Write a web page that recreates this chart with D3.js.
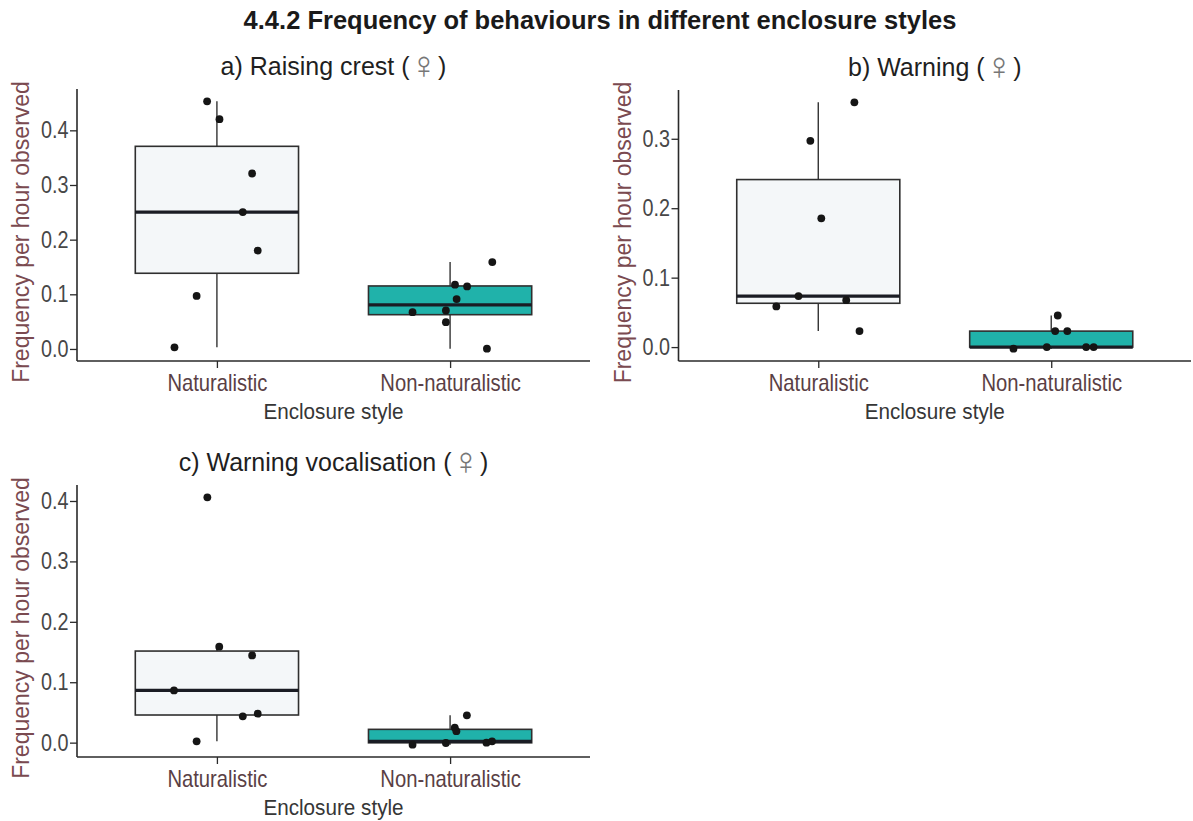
<!DOCTYPE html>
<html>
<head>
<meta charset="utf-8">
<script src="https://cdn.jsdelivr.net/npm/d3@7"></script>
<style>
  html, body { margin: 0; padding: 0; background: #ffffff; }
  svg { display: block; font-family: "Liberation Sans", Arial, Helvetica, sans-serif; }
</style>
</head>
<body>
<svg id="chart" width="1193" height="821"></svg>
<script>
// ---- data -------------------------------------------------------------
const mainTitle = "4.4.2 Frequency of behaviours in different enclosure styles";
const categories = ["Naturalistic", "Non-naturalistic"];
const panelTitles = ["a) Raising crest", "b) Warning", "c) Warning vocalisation"];
const sexSymbol = "\u2640";
const xAxisTitle = "Enclosure style";
const yAxisTitle = "Frequency per hour observed";
const yTicksA = [0, 0.1, 0.2, 0.3, 0.4];
const yTicksB = [0, 0.1, 0.2, 0.3];
const yTicksC = [0, 0.1, 0.2, 0.3, 0.4];

// frequency per hour observed, one value per observation
const crestNaturalistic    = [0.453, 0.4205, 0.321, 0.2505, 0.180, 0.097, 0.003];
const crestNonNaturalistic = [0.159, 0.1176, 0.1145, 0.0912, 0.0704, 0.049, 0.0006, 0.0673];
const warnNaturalistic     = [0.3525, 0.297, 0.1855, 0.0734, 0.0676, 0.0586, 0.023];
const warnNonNaturalistic  = [0.0455, 0.023, 0.023, 0.0, -0.0023, 0.0, 0.0];
const vocalNaturalistic    = [0.406, 0.1589, 0.1443, 0.0865, 0.0435, 0.048, 0.0022];
const vocalNonNaturalistic = [0.0452, 0.025, 0.019, -0.0006, -0.0033, 0.0, 0.0022];

// horizontal jitter of each point, in category units
const crestNaturalisticJitter    = [-0.042, 0.011, 0.151, 0.111, 0.175, -0.087, -0.182];
const crestNonNaturalisticJitter = [0.181, 0.021, 0.073, 0.028, -0.018, -0.018, 0.158, -0.161];
const warnNaturalisticJitter     = [0.155, -0.034, 0.013, -0.085, 0.12, -0.18, 0.177];
const warnNonNaturalisticJitter  = [0.028, 0.017, 0.069, -0.019, -0.162, 0.15, 0.182];
const vocalNaturalisticJitter    = [-0.041, 0.01, 0.151, -0.184, 0.111, 0.175, -0.087];
const vocalNonNaturalisticJitter = [0.072, 0.02, 0.027, -0.018, -0.161, 0.156, 0.18];

const boxFills = ["#F4F7F9", "#20B2AA"];

// ---- layout -----------------------------------------------------------
const panels = [
  { title: panelTitles[0], ticks: yTicksA, groups: [crestNaturalistic, crestNonNaturalistic],
    jitter: [crestNaturalisticJitter, crestNonNaturalisticJitter], x0: 77, x1: 590, y0: 89, y1: 361 },
  { title: panelTitles[1], ticks: yTicksB, groups: [warnNaturalistic, warnNonNaturalistic],
    jitter: [warnNaturalisticJitter, warnNonNaturalisticJitter], x0: 678.5, x1: 1191, y0: 90, y1: 361 },
  { title: panelTitles[2], ticks: yTicksC, groups: [vocalNaturalistic, vocalNonNaturalistic],
    jitter: [vocalNaturalisticJitter, vocalNonNaturalisticJitter], x0: 77, x1: 590, y0: 485, y1: 757 }
];

const AXIS = "#2a2a2a";
const svg = d3.select("#chart");

svg.append("text")
  .attr("x", 600).attr("y", 29)
  .attr("text-anchor", "middle")
  .attr("font-size", 25.5).attr("font-weight", "bold")
  .attr("fill", "#1a1a1a")
  .text(mainTitle);

function boxStats(values) {
  const s = values.slice().sort(d3.ascending);
  const q1 = d3.quantile(s, 0.25), med = d3.quantile(s, 0.5), q3 = d3.quantile(s, 0.75);
  const iqr = q3 - q1;
  const lo = d3.min(s.filter(v => v >= q1 - 1.5 * iqr));
  const hi = d3.max(s.filter(v => v <= q3 + 1.5 * iqr));
  return { q1, med, q3, lo, hi };
}

panels.forEach(p => {
  const g = svg.append("g");

  // continuous y with 5% padding around the data
  const all = p.groups.flat();
  const [mn, mx] = d3.extent(all);
  const pad = (mx - mn) * 0.05;
  const y = d3.scaleLinear().domain([mn - pad, mx + pad]).range([p.y1, p.y0]);
  // discrete x: categories at 1 and 2 with 0.6 units of padding
  const x = d3.scaleLinear().domain([0.4, 2.6]).range([p.x0, p.x1]);
  const halfBox = x(1.35) - x(1);

  // boxes
  p.groups.forEach((vals, i) => {
    const st = boxStats(vals);
    const cx = x(i + 1);
    g.append("line").attr("x1", cx).attr("x2", cx).attr("y1", y(st.q3)).attr("y2", y(st.hi))
      .attr("stroke", "#333").attr("stroke-width", 1.4);
    g.append("line").attr("x1", cx).attr("x2", cx).attr("y1", y(st.q1)).attr("y2", y(st.lo))
      .attr("stroke", "#333").attr("stroke-width", 1.4);
    g.append("rect")
      .attr("x", cx - halfBox).attr("width", 2 * halfBox)
      .attr("y", y(st.q3)).attr("height", y(st.q1) - y(st.q3))
      .attr("fill", boxFills[i]).attr("stroke", "#2f2f2f").attr("stroke-width", 1.6);
    g.append("line").attr("x1", cx - halfBox).attr("x2", cx + halfBox)
      .attr("y1", y(st.med)).attr("y2", y(st.med))
      .attr("stroke", "#1a1c24").attr("stroke-width", 3.2);
  });

  // jittered observations
  p.groups.forEach((vals, i) => {
    g.selectAll(null).data(vals).enter().append("circle")
      .attr("cx", (d, k) => x(i + 1 + p.jitter[i][k]))
      .attr("cy", d => y(d))
      .attr("r", 3.9)
      .attr("fill", "#151515");
  });

  // axes
  const yAxis = d3.axisLeft(y).tickValues(p.ticks).tickFormat(d3.format(".1f"))
    .tickSize(7).tickSizeOuter(0).tickPadding(3);
  const ya = g.append("g").attr("transform", `translate(${p.x0},0)`).call(yAxis);
  ya.select(".domain").attr("stroke", AXIS).attr("stroke-width", 1.6).attr("d", `M0,${p.y0}V${p.y1}`);
  ya.selectAll(".tick line").attr("stroke", AXIS).attr("stroke-width", 1.3);
  ya.selectAll(".tick text").attr("font-size", 23).attr("fill", "#474747")
    .attr("font-family", "Liberation Sans, Arial, sans-serif")
    .attr("transform", "scale(0.86,1)");

  const xAxis = d3.axisBottom(x).tickValues([1, 2]).tickFormat(d => categories[d - 1])
    .tickSize(7).tickSizeOuter(0).tickPadding(7);
  const xa = g.append("g").attr("transform", `translate(0,${p.y1})`).call(xAxis);
  xa.select(".domain").attr("stroke", AXIS).attr("stroke-width", 1.6).attr("d", `M${p.x0},0H${p.x1}`);
  xa.selectAll(".tick line").attr("stroke", AXIS).attr("stroke-width", 1.3);
  xa.selectAll(".tick text").attr("font-size", 23).attr("fill", "#5a3f45")
    .attr("font-family", "Liberation Sans, Arial, sans-serif")
    .attr("transform", "scale(0.88,1)");

  const cxPanel = (p.x0 + p.x1) / 2;
  // panel title with a light female symbol
  const t = g.append("text").attr("x", cxPanel).attr("y", p.y0 - 14)
    .attr("text-anchor", "middle").attr("font-size", 25).attr("fill", "#1f1f1f");
  t.append("tspan").text(p.title + " (");
  t.append("tspan").attr("font-family", "DejaVu Sans").attr("font-size", 38)
    .attr("dy", 3)
    .attr("font-weight", 200).attr("fill", "#777777").text(sexSymbol);
  t.append("tspan").attr("dy", -3).text(")");
  // axis titles
  g.append("text").attr("x", cxPanel).attr("y", p.y1 + 58)
    .attr("text-anchor", "middle").attr("font-size", 22).attr("fill", "#363636")
    .attr("transform", `translate(${cxPanel * 0.06},0) scale(0.94,1)`)
    .text(xAxisTitle);
  g.append("text")
    .attr("transform", `translate(${p.x0 - 48},${(p.y0 + p.y1) / 2 + 7}) rotate(-90)`)
    .attr("text-anchor", "middle").attr("font-size", 23).attr("fill", "#7a4a50")
    .text(yAxisTitle);
});
</script>
</body>
</html>
